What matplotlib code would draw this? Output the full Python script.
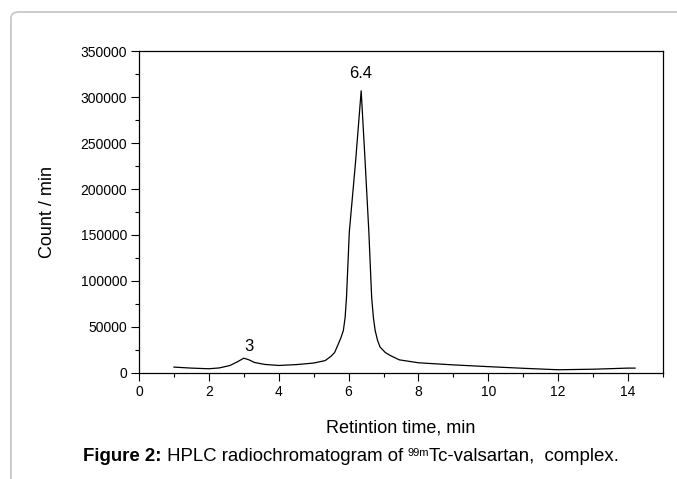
import matplotlib
matplotlib.use("Agg")
import matplotlib.pyplot as plt
from matplotlib.patches import FancyBboxPatch
from matplotlib.ticker import MultipleLocator

plt.rcParams['font.family'] = ['Liberation Sans', 'DejaVu Sans']

# Data
time_min = [1.0, 1.5, 2.0, 2.3, 2.6, 2.8, 3.0, 3.15, 3.3, 3.6, 4.0, 4.5, 5.0,
            5.33, 5.5, 5.6, 5.68, 5.78, 5.85, 5.9, 5.94, 6.02, 6.2, 6.36,
            6.47, 6.58, 6.66, 6.71, 6.76, 6.83, 6.9, 7.05, 7.18, 7.45, 8.0,
            9.0, 10.0, 11.0, 12.0, 13.0, 14.0, 14.2]
counts = [6100, 5000, 4300, 5200, 7800, 11500, 15800, 14000, 11200, 9000, 7900,
          8800, 10500, 13200, 18000, 22000, 29000, 38000, 46000, 60000, 82000,
          153000, 230000, 307000, 232000, 153000, 82000, 60000, 46000, 35000,
          28000, 22000, 19000, 14000, 10800, 8500, 6600, 4800, 3200, 3800,
          5000, 5000]

peak_labels = ["3", "6.4"]
peak_label_x = [3.15, 6.35]
peak_label_y = [28500, 326000]

x_ticks = [0, 2, 4, 6, 8, 10, 12, 14]
y_ticks = [0, 50000, 100000, 150000, 200000, 250000, 300000, 350000]

W, H = 677, 479
fig = plt.figure(figsize=(W / 100, H / 100), dpi=100)

# light rounded frame around the figure
frame = FancyBboxPatch((11 / W, -0.2), 1.2, (1 - 12 / H) + 0.2,
                       boxstyle="round,pad=0,rounding_size=0.012",
                       transform=fig.transFigure, facecolor='none',
                       edgecolor='#c8c8c8', linewidth=1.3)
fig.patches.append(frame)

ax_h = 372.7 - 51.3
ax_w = 663 - 139
ax = fig.add_axes([139 / W, 1 - 372.7 / H, ax_w / W, ax_h / H])
ax.plot(time_min, counts, color='black', linewidth=0.9)

ax.set_xlim(0, 15)
ax.set_ylim(0, 350000)
ax.set_xticks(x_ticks)
ax.set_yticks(y_ticks)
ax.set_yticklabels([str(v) for v in y_ticks])
ax.xaxis.set_minor_locator(MultipleLocator(1))
ax.yaxis.set_minor_locator(MultipleLocator(25000))
ax.tick_params(which='major', direction='out', length=5.5, width=0.8,
               labelsize=10, pad=3, top=False, right=False)
ax.tick_params(which='minor', direction='out', length=3, width=0.8,
               top=False, right=False)
for s in ax.spines.values():
    s.set_linewidth(0.9)

ax.set_xlabel("Retintion time, min", fontsize=13, va='center')
ax.xaxis.set_label_coords(0.5, -(428 - 372.7) / ax_h)
ax.set_ylabel("Count / min", fontsize=13, va='center')
ax.yaxis.set_label_coords(-(139 - 48) / ax_w, 0.5)

for lab, lx, ly in zip(peak_labels, peak_label_x, peak_label_y):
    ax.text(lx, ly, lab, fontsize=12, ha='center', va='center')

# caption
fs = 13.4
t1 = fig.text(83 / W, 1 - 465 / H, "Figure 2:", fontsize=fs, fontweight='bold',
              va='bottom', ha='left')
t2 = ax.annotate(" HPLC radiochromatogram of ", xy=(1, 0), xycoords=t1,
                 fontsize=fs, va='bottom', ha='left', annotation_clip=False)
t3 = ax.annotate("99m", xy=(1, 0.42), xycoords=t2, fontsize=fs * 0.6,
                 va='bottom', ha='left', annotation_clip=False)
t4 = ax.annotate("Tc-valsartan,  complex.", xy=(1, 0), xycoords=(t3, t2),
                 fontsize=fs, va='bottom', ha='left', annotation_clip=False)

fig.savefig("out.png", dpi=100)
